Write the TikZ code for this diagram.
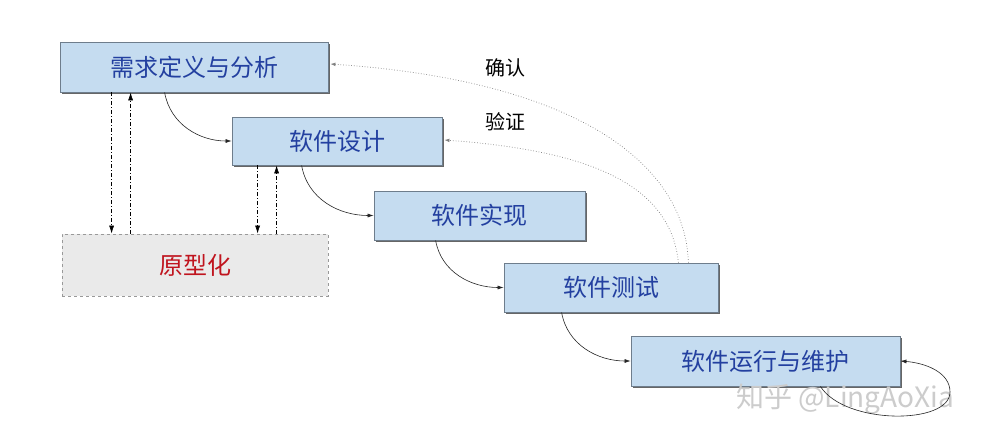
\documentclass[tikz,border=0pt]{standalone}
\usepackage{fontspec}
\setmainfont{Noto Sans CJK SC}
\usetikzlibrary{calc,shadows,arrows.meta}
\definecolor{boxfill}{RGB}{197,220,240}
\definecolor{boxtext}{RGB}{35,64,160}
\definecolor{boxline}{RGB}{110,125,140}
\definecolor{protofill}{RGB}{234,234,234}
\definecolor{prototext}{RGB}{192,20,30}
\begin{document}
\begin{tikzpicture}[x=1pt,y=-1pt,
  stage/.style={draw=boxline,fill=boxfill,text=boxtext,line width=0.8pt,
    font=\fontsize{24}{28}\selectfont,inner sep=0pt,
    drop shadow={shadow xshift=2pt,shadow yshift=-2pt,fill=black!60,opacity=1}},
  proto/.style={draw=gray!80,dashed,fill=protofill,text=prototext,line width=0.8pt,
    font=\fontsize{24}{28}\selectfont,inner sep=0pt},
  flow/.style={draw=black!85,line width=0.6pt,-{Latex[length=6pt,width=4pt]}},
  dd/.style={draw=black,line width=0.6pt,dash pattern=on 4pt off 2pt on 1pt off 2pt,-{Latex[length=8pt,width=5pt]}},
  dot/.style={draw=gray,line width=0.7pt,dotted,-{Latex[length=5pt,width=3.5pt]}},
  lbl/.style={font=\fontsize{20}{24}\selectfont,text=black},
  wm/.style={font=\fontsize{28}{32}\selectfont,text=gray!40}]
\useasboundingbox (0,0) rectangle (987,442);
\fill[white] (0,0) rectangle (987,442);
\node[stage,minimum width=268pt,minimum height=50pt] (b1) at (194,67) {需求定义与分析};
\node[stage,minimum width=210pt,minimum height=48pt] (b2) at (337,141) {软件设计};
\node[stage,minimum width=211pt,minimum height=49pt] (b3) at (479.5,215.5) {软件实现};
\node[stage,minimum width=214pt,minimum height=49pt] (b4) at (611,287.5) {软件测试};
\node[stage,minimum width=269pt,minimum height=50pt] (b5) at (765.5,361) {软件运行与维护};
\node[proto,minimum width=266pt,minimum height=62pt] (p) at (195,265) {原型化};
\node[lbl] (l1) at (505,68) {确认};
\node[lbl] (l2) at (505,122) {验证};
\node[wm] (wm) at (845,399) {知乎 @LingAoXia};
% flow arrows
\draw[flow] ($(b1.south west)+(105,0)$) to[out=-80,in=180] (b2.west);
\draw[flow] ($(b2.south west)+(70,0)$) to[out=-80,in=180] (b3.west);
\draw[flow] ($(b3.south west)+(62,0)$) to[out=-80,in=180] (b4.west);
\draw[flow] ($(b4.south west)+(58,0)$) to[out=-80,in=180] (b5.west);
\coordinate (loopR) at (950,392);
\draw[flow] ($(b5.south east)+(-80,0)$) .. controls (845,425) and (950,425) .. (loopR)
  .. controls (950,372) and (925,363) .. (b5.east);
% prototype arrows
\draw[dd] ($(b1.south west)+(52,0)$) -- ($(p.north west)+(50,0)$);
\draw[dd] ($(p.north west)+(69,0)$) -- ($(b1.south west)+(71,0)$);
\draw[dd] ($(b2.south west)+(26,0)$) -- ($(p.north west)+(196,0)$);
\draw[dd] ($(p.north west)+(215,0)$) -- ($(b2.south west)+(45,0)$);
% verification / validation
\draw[dot] ($(b4.north east)+(-30,0)$) .. controls (685,160) and (570,80) .. ($(b1.east)+(2,-3)$);
\draw[dot] ($(b4.north east)+(-40,0)$) .. controls (670,180) and (580,150) .. ($(b2.east)+(2,-1)$);
\end{tikzpicture}
\end{document}
